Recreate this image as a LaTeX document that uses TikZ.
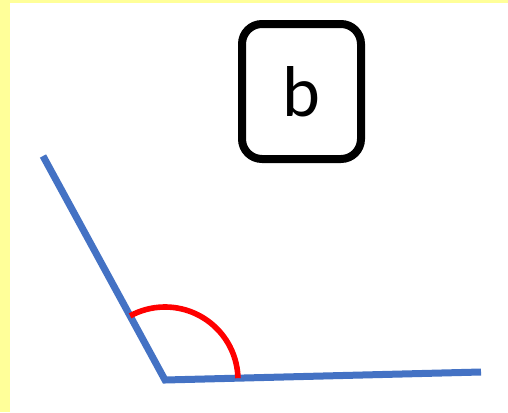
\documentclass[tikz,border=0pt]{standalone}
\usepackage{fontspec}
\setmainfont{Carlito}
\usetikzlibrary{angles}
\definecolor{edgeblue}{RGB}{68,114,196}
\definecolor{padyellow}{RGB}{255,255,153}
\begin{document}
\begin{tikzpicture}[x=0.5pt, y=-0.5pt,
  lbl/.style={draw, line width=4pt, rounded corners=10pt, minimum width=59.5pt,
    minimum height=67.5pt, inner sep=0pt, font=\fontsize{36}{40}\selectfont},
  arm/.style={draw=edgeblue, line width=3.5pt},
  anglearc/.style={draw=red, line width=2.8pt, angle radius=36.5pt},
]
  % --- frame ---
  \fill[padyellow] (0,0) rectangle (508,412);
  \fill[white] (10,3) rectangle (508,412);
  \useasboundingbox (0,0) rectangle (508,412);
  % --- label ---
  \node[lbl] (tag) at (301.5,91.5) {b};
  % --- angle ---
  \coordinate (tipA) at (43,156);
  \coordinate (vtx) at (165,380);
  \coordinate (tipB) at (481,372);
  \draw[arm] (tipA) -- (vtx) -- (tipB);
  \pic[anglearc] {angle = tipB--vtx--tipA};
\end{tikzpicture}
\end{document}
